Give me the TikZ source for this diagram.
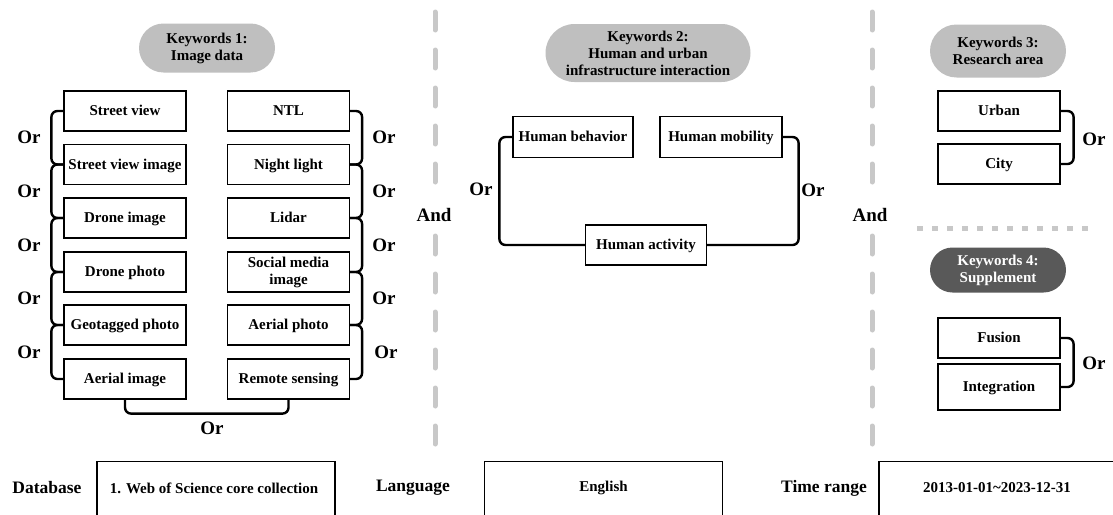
\documentclass[tikz,border=0pt]{standalone}
\usepackage{fontspec}
\setmainfont{Liberation Serif}
\usepackage{tikz}
\usetikzlibrary{shapes.misc}
\definecolor{colorpill}{HTML}{BFBFBF}
\definecolor{colordark}{HTML}{595959}
\definecolor{colorsep}{HTML}{C8C8C8}
\newcommand\boxstrut{\rule[-0.22em]{0pt}{1.1em}}
\tikzset{
  kwbox/.style={draw, line width=1.2pt, minimum width=122pt, minimum height=40pt,
    align=center, font=\bfseries\fontsize{15}{17}\selectfont, inner sep=1pt,
    execute at begin node=\boxstrut, execute at end node=\boxstrut},
  kwpill/.style={rounded rectangle, fill=colorpill, minimum width=140pt, align=center,
    font=\bfseries\fontsize{15}{17}\selectfont, inner sep=2pt},
  kwdark/.style={kwpill, fill=colordark, text=white},
  orline/.style={line width=2.4pt, rounded corners=6pt},
  ortext/.style={font=\bfseries\fontsize{19}{20}\selectfont},
  sepline/.style={colorsep, line width=5pt, line cap=round, dash pattern=on 18pt off 20pt},
  dotline/.style={colorsep, line width=5pt, dash pattern=on 6pt off 9pt},
  basebox/.style={draw, line width=1.2pt, minimum width=238pt, minimum height=60pt, anchor=north},
  baselabel/.style={font=\bfseries\fontsize{17.5}{19}\selectfont},
  basetext/.style={font=\bfseries\fontsize{15}{17}\selectfont}
}

\begin{document}
\begin{tikzpicture}[x=1pt, y=-1pt]
\useasboundingbox (0,0) rectangle (1113,514);
\clip (0,0) rectangle (1113,514);
% keywords 1
\node[kwpill, minimum height=49pt] (kw1) at (207,48) {Keywords 1:\\Image data};
\node[kwbox] (sv) at (125,111) {Street view};
\node[kwbox] (svi) at (125,164.5) {Street view image};
\node[kwbox] (di) at (125,218) {Drone image};
\node[kwbox] (dp) at (125,272) {Drone photo};
\node[kwbox] (gp) at (125,325) {Geotagged photo};
\node[kwbox] (ai) at (125,379) {Aerial image};
\node[kwbox] (ntl) at (288.5,111) {NTL};
\node[kwbox] (nl) at (288.5,164.5) {Night light};
\node[kwbox] (li) at (288.5,218) {Lidar};
\node[kwbox] (sm) at (288.5,272) {Social media\\image};
\node[kwbox] (ap) at (288.5,325) {Aerial photo};
\node[kwbox] (rs) at (288.5,379) {Remote sensing};
\draw[orline] (sv.west) -- ++(-12,0) |- (svi.west);
\draw[orline] (svi.west) -- ++(-12,0) |- (di.west);
\draw[orline] (di.west) -- ++(-12,0) |- (dp.west);
\draw[orline] (dp.west) -- ++(-12,0) |- (gp.west);
\draw[orline] (gp.west) -- ++(-12,0) |- (ai.west);
\draw[orline] (ntl.east) -- ++(12,0) |- (nl.east);
\draw[orline] (nl.east) -- ++(12,0) |- (li.east);
\draw[orline] (li.east) -- ++(12,0) |- (sm.east);
\draw[orline] (sm.east) -- ++(12,0) |- (ap.east);
\draw[orline] (ap.east) -- ++(12,0) |- (rs.east);
\draw[orline] (ai.south) -- ++(0,14) -| (rs.south);
\node[ortext] (or1) at (29,137) {Or};
\node[ortext] (or2) at (29,191) {Or};
\node[ortext] (or3) at (29,245) {Or};
\node[ortext] (or4) at (29,298) {Or};
\node[ortext] (or5) at (29,352) {Or};
\node[ortext] (or6) at (384,137) {Or};
\node[ortext] (or7) at (384,191) {Or};
\node[ortext] (or8) at (384,245) {Or};
\node[ortext] (or9) at (384,298) {Or};
\node[ortext] (or10) at (386,352) {Or};
\node[ortext] (or11) at (212,428) {Or};
% separators
\node[ortext] (and1) at (434,215) {And};
\node[ortext] (and2) at (870,215) {And};
\draw[sepline] (435,12) -- (435,195);
\draw[sepline] (435,236) -- (435,445);
\draw[sepline] (872,12) -- (872,195);
\draw[sepline] (872,236) -- (872,445);
\draw[dotline] (917,228) -- (1090,228);
% keywords 2
\node[kwpill, minimum width=209pt, minimum height=58pt] (kw2) at (648,53)
  {Keywords 2:\\Human and urban\\infrastructure interaction};
\node[kwbox, minimum width=120pt, minimum height=41pt] (hb) at (573,137) {Human behavior};
\node[kwbox, minimum width=122pt, minimum height=41pt] (hm) at (721,137) {Human mobility};
\node[kwbox, minimum width=121pt] (ha) at (646,245) {Human activity};
\draw[orline] (hb.west) -- ++(-13,0) |- (ha.west);
\draw[orline] (hm.east) -- ++(16,0) |- (ha.east);
\node[ortext] (or12) at (481,189) {Or};
\node[ortext] (or13) at (813,190) {Or};
% keywords 3 and 4
\node[kwpill, minimum height=53pt] (kw3) at (998,51) {Keywords 3:\\Research area};
\node[kwbox] (ur) at (999,111) {Urban};
\node[kwbox] (ci) at (999,164) {City};
\draw[orline] (ur.east) -- ++(13,0) |- (ci.east);
\node[ortext] (or14) at (1094,139) {Or};
\node[kwdark, minimum height=45pt] (kw4) at (998,270) {Keywords 4:\\Supplement};
\node[kwbox] (fu) at (999,338) {Fusion};
\node[kwbox, minimum height=46pt] (in) at (999,387) {Integration};
\draw[orline] (fu.east) -- ++(13,0) |- (in.east);
\node[ortext] (or15) at (1094,363) {Or};
% search settings
\node[baselabel] (db) at (47,488) {Database};
\node[basebox] (dbbox) at (216,461) {};
\node[basetext] (dbtext) at (214,488) {1. Web of Science core collection};
\node[baselabel] (lg) at (413,488) {Language};
\node[basebox] (lgbox) at (603.5,461) {};
\node[basetext] (lgtext) at (603.5,488) {English};
\node[baselabel] (tr) at (824,488) {Time range};
\node[basebox] (trbox) at (998,461) {};
\node[basetext] (trtext) at (997,488) {2013-01-01\textasciitilde 2023-12-31};
\end{tikzpicture}
\end{document}
